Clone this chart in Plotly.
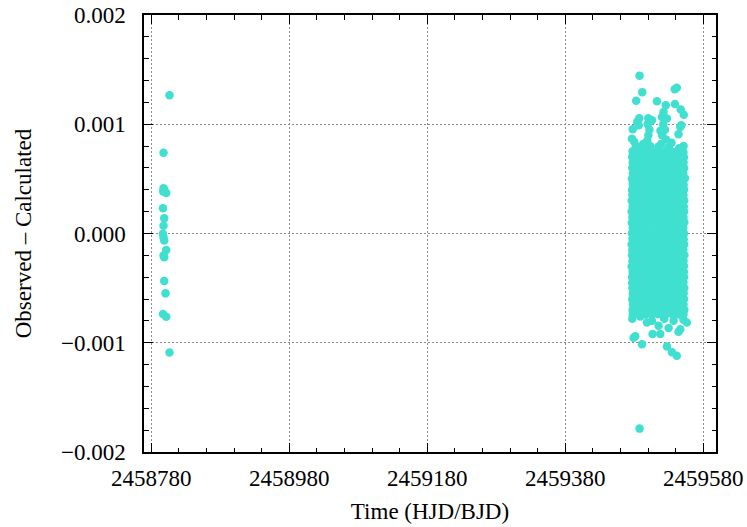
import plotly.graph_objects as go

# ---------------------------------------------------------------------------
# O-C residuals (days) against mid-time (HJD/BJD)
# ---------------------------------------------------------------------------

# First season: a short run of timings
season1_bjd = [
    2458806.5, 2458797.8, 2458797.8, 2458801.7, 2458797.4, 2458799.0,
    2458797.0, 2458798.8, 2458797.8, 2458797.0, 2458797.8, 2458798.8,
    2458801.7, 2458797.8, 2458798.8, 2458798.8, 2458800.7, 2458797.0,
    2458801.7, 2458806.5,
]
season1_oc = [
    0.001266, 0.000740, 0.000415, 0.000370, 0.000385, 0.000400,
    0.000232, 0.000140, 0.000071, -0.000003, -0.000034, -0.000064,
    -0.000150, -0.000202, -0.000217, -0.000434, -0.000548, -0.000737,
    -0.000761, -0.001089,
]

# Second season: dense coverage, listed in bands of residual
season2_bjd = [
    # +0.75e-3 .. +0.55e-3
    2459477.6, 2459486.9, 2459497.3, 2459506.1, 2459516.4, 2459525.2, 2459535.8, 2459544.6, 2459551.2,
    2459476.9, 2459481.8, 2459491.5, 2459501.2, 2459511.0, 2459520.7, 2459530.2, 2459539.9, 2459547.3, 2459552.0,
    2459477.8, 2459486.1, 2459496.0, 2459505.8, 2459515.3, 2459525.5, 2459534.6, 2459543.3, 2459551.5,
    2459477.2, 2459481.9, 2459490.9, 2459500.7, 2459510.4, 2459520.2, 2459529.6, 2459539.5, 2459547.7, 2459552.4,
    2459478.1, 2459485.6, 2459495.4, 2459505.3, 2459515.8, 2459524.9, 2459535.1, 2459543.9, 2459551.0,
    # +0.50e-3 .. +0.30e-3
    2459476.6, 2459481.6, 2459490.3, 2459500.1, 2459510.9, 2459519.8, 2459530.5, 2459540.1, 2459548.5, 2459553.4,
    2459477.9, 2459486.4, 2459496.3, 2459504.9, 2459515.0, 2459524.3, 2459534.2, 2459543.2, 2459551.6,
    2459476.8, 2459481.5, 2459491.2, 2459500.9, 2459510.2, 2459520.5, 2459529.9, 2459539.2, 2459547.9, 2459552.2,
    2459477.3, 2459485.5, 2459495.6, 2459505.6, 2459515.6, 2459525.8, 2459534.9, 2459543.7, 2459551.3,
    2459476.4, 2459481.9, 2459490.6, 2459500.4, 2459510.6, 2459519.9, 2459530.1, 2459539.6, 2459548.2, 2459552.5,
    # +0.25e-3 .. +0.05e-3
    2459477.7, 2459485.9, 2459495.8, 2459505.0, 2459514.7, 2459524.6, 2459534.5, 2459543.1, 2459551.8,
    2459476.2, 2459481.3, 2459490.1, 2459500.6, 2459510.1, 2459520.3, 2459529.4, 2459539.8, 2459547.6, 2459552.3,
    2459477.4, 2459486.2, 2459496.1, 2459505.4, 2459515.5, 2459525.1, 2459535.4, 2459543.5, 2459551.4,
    2459476.5, 2459481.7, 2459491.0, 2459500.2, 2459510.7, 2459520.0, 2459530.3, 2459539.3, 2459548.0, 2459552.6,
    2459478.0, 2459485.3, 2459495.2, 2459505.9, 2459515.2, 2459524.8, 2459534.7, 2459543.8, 2459551.0,
    # 0.00e-3 .. -0.20e-3
    2459476.7, 2459481.0, 2459490.7, 2459500.8, 2459510.5, 2459520.6, 2459529.8, 2459540.0, 2459548.4, 2459552.1,
    2459477.5, 2459486.0, 2459495.7, 2459505.5, 2459515.9, 2459525.3, 2459535.0, 2459543.4, 2459551.7,
    2459476.3, 2459481.6, 2459491.4, 2459500.3, 2459510.3, 2459519.7, 2459530.0, 2459539.7, 2459547.8, 2459552.4,
    2459477.2, 2459485.7, 2459496.2, 2459505.1, 2459514.9, 2459524.7, 2459534.4, 2459543.0, 2459551.2,
    2459476.8, 2459480.8, 2459490.4, 2459500.5, 2459510.8, 2459520.4, 2459529.7, 2459539.4, 2459548.1, 2459552.7,
    # -0.25e-3 .. -0.45e-3
    2459477.6, 2459486.3, 2459495.5, 2459505.7, 2459515.4, 2459525.0, 2459535.3, 2459543.6, 2459551.5,
    2459476.3, 2459481.4, 2459491.1, 2459500.0, 2459510.0, 2459520.1, 2459530.4, 2459539.1, 2459547.5, 2459552.0,
    2459477.7, 2459485.4, 2459495.9, 2459505.2, 2459515.7, 2459524.5, 2459534.8, 2459543.3, 2459551.9,
    2459476.9, 2459481.5, 2459490.8, 2459500.9, 2459510.4, 2459520.8, 2459529.5, 2459539.9, 2459548.3, 2459552.3,
    2459477.0, 2459486.5, 2459496.4, 2459504.8, 2459515.1, 2459525.4, 2459535.2, 2459543.9, 2459551.3,
    # -0.50e-3 .. -0.74e-3
    2459477.3, 2459481.1, 2459490.2, 2459500.7, 2459510.9, 2459519.6, 2459530.6, 2459539.5, 2459548.0, 2459552.5,
    2459477.9, 2459485.8, 2459495.3, 2459505.5, 2459515.3, 2459524.2, 2459534.1, 2459543.2, 2459551.6,
    2459477.1, 2459481.7, 2459491.3, 2459500.4, 2459510.1, 2459520.2, 2459529.9, 2459539.3, 2459547.7, 2459552.2,
    2459478.3, 2459486.2, 2459496.0, 2459505.3, 2459515.6, 2459525.1, 2459534.6, 2459543.5, 2459551.4,
    2459477.6, 2459482.0, 2459490.9, 2459500.6, 2459510.6, 2459520.5, 2459530.2, 2459539.7, 2459548.2, 2459552.6,
    2459478.0, 2459487.0, 2459496.5, 2459506.0, 2459515.0, 2459524.9, 2459535.5, 2459545.0, 2459551.2,
    # upper tail
    2459487.7, 2459491.6, 2459482.9, 2459512.9, 2459538.7, 2459541.6, 2459525.7, 2459539.0, 2459547.4,
    2459551.8, 2459546.7, 2459487.3, 2459484.4, 2459500.3, 2459505.7, 2459522.5, 2459520.2, 2459527.4,
    2459477.8, 2459476.7, 2459480.0, 2459514.8, 2459551.5, 2459544.2, 2459548.1, 2459547.7, 2459486.5,
    2459499.5, 2459502.0, 2459500.5, 2459498.8, 2459503.0, 2459497.5, 2459493.0,
    2459522.0, 2459524.5, 2459518.0, 2459520.5, 2459526.0, 2459519.0, 2459530.0, 2459534.0,
    2459482.5, 2459486.0, 2459545.0,
    # lower tail
    2459481.5, 2459479.0, 2459491.2, 2459506.6, 2459517.7, 2459515.3, 2459529.8, 2459544.2, 2459546.7,
    2459527.4, 2459534.7, 2459541.6, 2459487.7, 2459498.4, 2459505.7, 2459537.0, 2459551.5, 2459556.2,
    2459477.1, 2459488.7, 2459523.5,
]
season2_oc = [
    # +0.75e-3 .. +0.55e-3
    0.000752, 0.000744, 0.000757, 0.000748, 0.000741, 0.000755, 0.000746, 0.000751, 0.000743,
    0.000703, 0.000696, 0.000707, 0.000699, 0.000704, 0.000694, 0.000702, 0.000698, 0.000706, 0.000697,
    0.000651, 0.000646, 0.000655, 0.000648, 0.000653, 0.000644, 0.000652, 0.000647, 0.000650,
    0.000602, 0.000597, 0.000605, 0.000599, 0.000601, 0.000596, 0.000604, 0.000598, 0.000603, 0.000600,
    0.000548, 0.000553, 0.000546, 0.000551, 0.000549, 0.000554, 0.000547, 0.000552, 0.000550,
    # +0.50e-3 .. +0.30e-3
    0.000501, 0.000497, 0.000504, 0.000499, 0.000502, 0.000496, 0.000503, 0.000498, 0.000500, 0.000505,
    0.000452, 0.000447, 0.000450, 0.000454, 0.000446, 0.000451, 0.000448, 0.000453, 0.000449,
    0.000398, 0.000403, 0.000401, 0.000396, 0.000402, 0.000399, 0.000404, 0.000397, 0.000400, 0.000402,
    0.000353, 0.000348, 0.000351, 0.000346, 0.000352, 0.000349, 0.000354, 0.000347, 0.000350,
    0.000301, 0.000297, 0.000303, 0.000299, 0.000302, 0.000296, 0.000304, 0.000298, 0.000300, 0.000303,
    # +0.25e-3 .. +0.05e-3
    0.000248, 0.000253, 0.000249, 0.000251, 0.000247, 0.000252, 0.000250, 0.000254, 0.000246,
    0.000202, 0.000198, 0.000203, 0.000197, 0.000201, 0.000199, 0.000204, 0.000196, 0.000200, 0.000202,
    0.000149, 0.000152, 0.000147, 0.000151, 0.000153, 0.000148, 0.000150, 0.000146, 0.000151,
    0.000099, 0.000103, 0.000098, 0.000102, 0.000097, 0.000101, 0.000104, 0.000099, 0.000100, 0.000102,
    0.000052, 0.000047, 0.000051, 0.000048, 0.000053, 0.000049, 0.000050, 0.000046, 0.000052,
    # 0.00e-3 .. -0.20e-3
    0.000002, -0.000003, 0.000001, -0.000002, 0.000003, -0.000001, 0.000002, -0.000004, 0.000000, 0.000001,
    -0.000048, -0.000053, -0.000050, -0.000047, -0.000052, -0.000049, -0.000051, -0.000046, -0.000053,
    -0.000101, -0.000097, -0.000103, -0.000099, -0.000102, -0.000098, -0.000100, -0.000104, -0.000096, -0.000101,
    -0.000152, -0.000148, -0.000151, -0.000153, -0.000147, -0.000150, -0.000149, -0.000152, -0.000148,
    -0.000198, -0.000203, -0.000200, -0.000197, -0.000202, -0.000199, -0.000204, -0.000201, -0.000198, -0.000200,
    # -0.25e-3 .. -0.45e-3
    -0.000251, -0.000247, -0.000253, -0.000249, -0.000252, -0.000248, -0.000250, -0.000254, -0.000249,
    -0.000302, -0.000298, -0.000301, -0.000303, -0.000297, -0.000300, -0.000304, -0.000299, -0.000301, -0.000298,
    -0.000349, -0.000353, -0.000348, -0.000351, -0.000352, -0.000347, -0.000350, -0.000354, -0.000351,
    -0.000401, -0.000397, -0.000403, -0.000399, -0.000402, -0.000398, -0.000400, -0.000404, -0.000401, -0.000399,
    -0.000452, -0.000448, -0.000451, -0.000453, -0.000449, -0.000450, -0.000447, -0.000452, -0.000450,
    # -0.50e-3 .. -0.74e-3
    -0.000499, -0.000503, -0.000501, -0.000497, -0.000502, -0.000500, -0.000504, -0.000498, -0.000501, -0.000499,
    -0.000551, -0.000548, -0.000552, -0.000549, -0.000553, -0.000547, -0.000550, -0.000551, -0.000548,
    -0.000602, -0.000598, -0.000601, -0.000603, -0.000599, -0.000600, -0.000604, -0.000597, -0.000602, -0.000600,
    -0.000649, -0.000652, -0.000648, -0.000651, -0.000653, -0.000650, -0.000647, -0.000652, -0.000649,
    -0.000701, -0.000698, -0.000702, -0.000699, -0.000703, -0.000700, -0.000697, -0.000701, -0.000702, -0.000699,
    -0.000742, -0.000738, -0.000741, -0.000744, -0.000739, -0.000743, -0.000740, -0.000742, -0.000738,
    # upper tail
    0.001445, 0.001294, 0.001216, 0.001211, 0.001321, 0.001335, 0.001174, 0.001185, 0.001135,
    0.001087, 0.000975, 0.001055, 0.001023, 0.001055, 0.001037, 0.001113, 0.001067, 0.001052,
    0.000954, 0.000867, 0.000839, 0.000794, 0.000801, 0.000908, 0.000991, 0.000685, 0.000990,
    0.001000, 0.000950, 0.000900, 0.000850, 0.000800, 0.000780, 0.000820,
    0.001000, 0.000950, 0.000940, 0.000900, 0.000860, 0.000820, 0.000790, 0.000830,
    0.000800, 0.000780, 0.000780,
    # lower tail
    -0.000940, -0.000954, -0.001014, -0.000920, -0.000920, -0.000844, -0.000864, -0.000899, -0.000876,
    -0.001034, -0.001087, -0.001119, -0.001786, -0.000814, -0.000798, -0.000798, -0.000789, -0.000814,
    -0.000780, -0.000760, -0.000780,
]

x_ticks = [2458780, 2458980, 2459180, 2459380, 2459580]
y_ticks = [-0.002, -0.001, 0.000, 0.001, 0.002]
x_range = [2458769.5, 2459598.5]
y_range = [-0.002, 0.002]

POINT_COLOR = "#40E0D0"
FONT = "Liberation Serif"

fig = go.Figure()
fig.add_trace(go.Scatter(
    x=season1_bjd + season2_bjd,
    y=season1_oc + season2_oc,
    mode="markers",
    marker=dict(color=POINT_COLOR, size=8.5, line=dict(width=0)),
    showlegend=False,
))
# empty traces so the extra tick-only axes get drawn
fig.add_trace(go.Scatter(x=[], y=[], xaxis="x2", yaxis="y2", showlegend=False,
                         hoverinfo="skip"))
fig.add_trace(go.Scatter(x=[], y=[], xaxis="x3", yaxis="y3", showlegend=False,
                         hoverinfo="skip"))

tick_style = dict(ticks="inside", ticklen=9, tickwidth=1, tickcolor="black")
minor_x = dict(dtick=40, tick0=2458780, ticks="inside", ticklen=4.5,
               tickcolor="black", showgrid=False)
minor_y = dict(dtick=0.0002, tick0=0, ticks="inside", ticklen=4.5,
               tickcolor="black", showgrid=False)
grid_style = dict(showgrid=True, gridcolor="#8c8c8c", gridwidth=1, griddash="2px,2px")


def tick_axis(rng, vals, minor, **kw):
    # an unlabelled axis that only contributes tick marks to the frame
    return dict(range=rng, tickvals=vals, showticklabels=False, showgrid=False,
                zeroline=False, automargin=False, minor=minor, **tick_style, **kw)


fig.update_layout(
    width=747, height=527,
    margin=dict(l=144, r=31, t=15, b=75),
    paper_bgcolor="white", plot_bgcolor="white",
    font=dict(family=FONT, color="black"),
    xaxis=dict(
        range=x_range, tickvals=x_ticks, ticktext=[str(v) for v in x_ticks],
        showline=True, linecolor="black", linewidth=1.5, mirror=True,
        zeroline=False, automargin=False,
        tickfont=dict(family=FONT, size=23, color="black"),
        ticklabelstandoff=5,
        title=dict(text="Time (HJD/BJD)",
                   font=dict(family=FONT, size=23, color="black"), standoff=13),
        **tick_style, **grid_style,
    ),
    yaxis=dict(
        range=y_range, tickvals=y_ticks, tickformat=".3f",
        showline=True, linecolor="black", linewidth=1.5, mirror=True,
        zeroline=False, automargin=False,
        tickfont=dict(family=FONT, size=23, color="black"),
        ticklabelstandoff=12,
        title=dict(text="Observed – Calculated",
                   font=dict(family=FONT, size=23, color="black"), standoff=23),
        **tick_style, **grid_style,
    ),
    # top and right frame ticks
    xaxis2=tick_axis(x_range, x_ticks, minor_x, overlaying="x", side="top", anchor="y"),
    yaxis2=tick_axis(y_range, y_ticks, minor_y, overlaying="y", side="right", anchor="x"),
    # minor ticks along the bottom and left frame
    xaxis3=tick_axis(x_range, x_ticks, minor_x, overlaying="x", side="bottom", anchor="y"),
    yaxis3=tick_axis(y_range, y_ticks, minor_y, overlaying="y", side="left", anchor="x"),
)

fig.write_html("out.html")
